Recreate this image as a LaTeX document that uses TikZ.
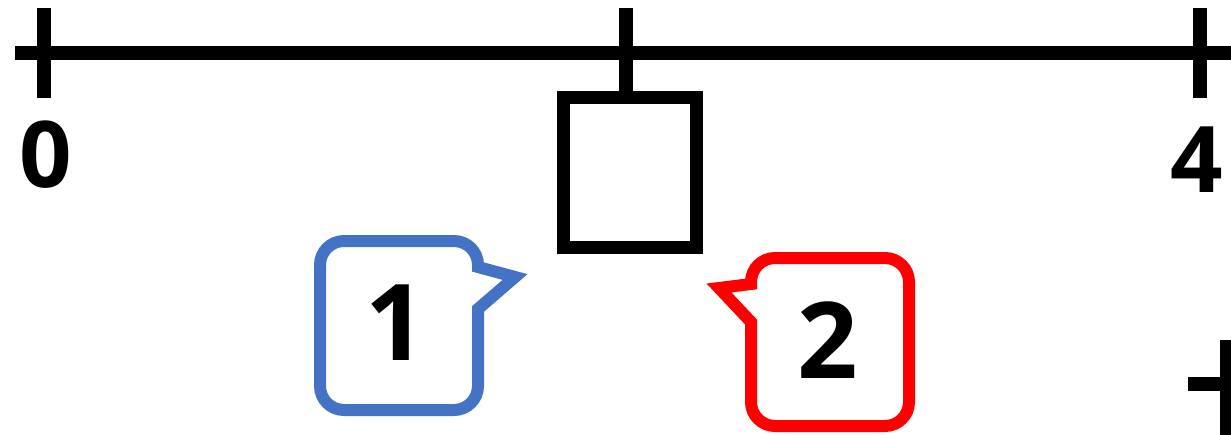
\documentclass[tikz,border=0pt]{standalone}
\usepackage{fontspec}
\setmainfont{Open Sans}
\definecolor{cblue}{HTML}{4472C4}
\definecolor{cred}{HTML}{FF0000}
\begin{document}
\begin{tikzpicture}[x=1pt,y=-1pt,
  axis/.style={line width=14pt,black},
  lbl/.style={inner sep=0pt,font=\fontsize{92}{92}\selectfont\bfseries},
  clbl/.style={inner sep=0pt,font=\fontsize{106}{106}\selectfont\bfseries},
  bubble/.style={line width=12pt,line join=miter}]
\useasboundingbox (0,0) rectangle (1231,434);
% main number line
\coordinate (L) at (15,53);
\coordinate (R) at (1235,53);
\draw[axis] (L) -- (R);
\coordinate (t0a) at (44,8);  \coordinate (t0b) at (44,98);
\coordinate (t2a) at (626,8); \coordinate (t2b) at (626,98);
\coordinate (t4a) at (1200,8);\coordinate (t4b) at (1200,98);
\draw[axis] (t0a) -- (t0b);
\draw[axis] (t4a) -- (t4b);
% box hanging at middle tick
\node[draw,line width=13pt,minimum width=133pt,minimum height=150pt,inner sep=0pt] (box) at (629.5,172) {};
\draw[axis] (t2a) -- (box.north -| t2a);
% labels
\node[lbl] (n0) at (46,155) {0};
\node[lbl] (n4) at (1197,160) {4};
% partial second number line
\coordinate (B1) at (1188,384);
\coordinate (B2) at (1235,384);
\coordinate (Bt1) at (1227,340);
\coordinate (Bt2) at (1227,440);
\draw[axis] (B1) -- (B2);
\draw[axis] (Bt1) -- (Bt2);
% callout 1
\draw[bubble,cblue,rounded corners=24pt] (320,241) -- (478,241) [sharp corners] -- (478,267) -- (515,277) -- (478,309) [rounded corners=24pt] -- (478,410) -- (320,410) -- cycle;
\node[clbl] (c1) at (396,323) {1};
% callout 2
\draw[bubble,cred,rounded corners=24pt] (909,258) -- (909,426) -- (751,426) [sharp corners] -- (751,322) -- (719,288) -- (751,284) [rounded corners=24pt] -- (751,258) -- cycle;
\node[clbl] (c2) at (828,340) {2};
\end{tikzpicture}
\end{document}
